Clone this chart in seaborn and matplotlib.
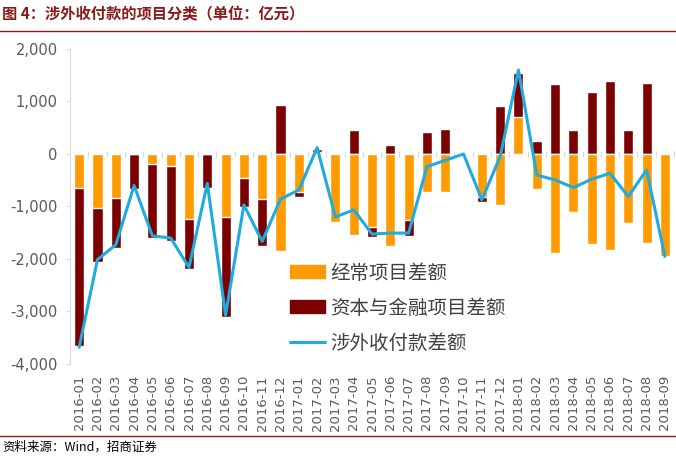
import numpy as np
import pandas as pd
import matplotlib
matplotlib.use('Agg')
import matplotlib.pyplot as plt
from matplotlib.lines import Line2D
from matplotlib.patches import Patch
import seaborn as sns

sns.set_style('white')
plt.rcParams['font.family'] = ['Noto Sans CJK SC', 'DejaVu Sans']

# months 2016-01 .. 2018-09
months = ['2016-01', '2016-02', '2016-03', '2016-04', '2016-05', '2016-06',
          '2016-07', '2016-08', '2016-09', '2016-10', '2016-11', '2016-12',
          '2017-01', '2017-02', '2017-03', '2017-04', '2017-05', '2017-06',
          '2017-07', '2017-08', '2017-09', '2017-10', '2017-11', '2017-12',
          '2018-01', '2018-02', '2018-03', '2018-04', '2018-05', '2018-06',
          '2018-07', '2018-08', '2018-09']

# 经常项目差额
current = [-640, -1020, -835, 20, -185, -235, -1240, 0, -1200, -450, -860,
           -1855, -715, 30, -1300, -1550, -1392, -1747, -1266, -728, -728, 0,
           -810, -981, 696, -671, -1886, -1100, -1715, -1823, -1323, -1690,
           -1950]

# 资本与金融项目差额
capital = [-3020, -1037, -965, -660, -1415, -1430, -960, -640, -1910, -556,
           -900, 928, -108, 60, 0, 450, -188, 177, -304, 424, 481, 0, -108,
           905, 848, 240, 1335, 455, 1177, 1399, 455, 1348, -15]

# 涉外收付款差额
total = [-3680, -2010, -1730, -600, -1560, -1600, -2160, -560, -3070, -970,
         -1665, -860, -685, 120, -1200, -1063, -1525, -1506, -1506, -241,
         -120, 0, -873, -50, 1600, -400, -494, -640, -480, -367, -810, -304,
         -1950]

labels = ['经常项目差额', '资本与金融项目差额', '涉外收付款差额']

orange = '#FF9B00'
darkred = '#7B0000'
blue = '#1FAAE0'
gray = '#595959'


def main():
    df = pd.DataFrame({'month': months, 'current': current,
                       'capital': capital, 'total': total})
    # excel-like stacking: same sign stacks on top of current item
    same = np.sign(df['current']) == np.sign(df['capital'])
    df['capital_top'] = np.where(same, df['current'] + df['capital'],
                                 df['capital'])

    fig = plt.figure(figsize=(6.76, 4.57), dpi=100)
    ax = fig.add_axes([0.1036, 0.2035, 0.8935, 0.6893])

    sns.barplot(data=df, x='month', y='capital_top', color=darkred,
                width=0.55, saturation=1, ax=ax, order=months)
    sns.barplot(data=df, x='month', y='current', color=orange,
                width=0.55, saturation=1, ax=ax, order=months)
    sns.lineplot(x=np.arange(len(months)), y=df['total'], color=blue,
                 linewidth=2.2, ax=ax)

    ax.set_xlim(-0.5, len(months) - 0.5)
    ax.set_ylim(-4000, 2000)
    ax.set_yticks(range(-4000, 2001, 1000))
    ax.yaxis.set_major_formatter(
        matplotlib.ticker.FuncFormatter(lambda v, p: f'{int(v):,}'))
    ax.set_xlabel('')
    ax.set_ylabel('')
    ax.set_xticks(range(len(months)))
    ax.set_xticklabels(months, rotation=90, fontsize=9.5, color=gray,
                       family='DejaVu Sans')
    ax.tick_params(axis='x', length=0, pad=8)
    ax.tick_params(axis='y', labelsize=10.5, labelcolor=gray, length=3,
                   color='#D9D9D9', left=True, pad=6)
    for t in ax.get_yticklabels():
        t.set_family('DejaVu Sans')

    for side in ['top', 'right', 'bottom']:
        ax.spines[side].set_visible(False)
    ax.spines['left'].set_color('#D9D9D9')

    # zero axis with small category ticks
    sec = ax.secondary_xaxis(4000 / 6000)
    sec.set_xticks(np.arange(-0.5, len(months), 1))
    sec.set_xticklabels([])
    sec.tick_params(length=4, color='#D9D9D9', direction='inout')
    sec.spines['bottom'].set_color('#D9D9D9')
    sec.spines['top'].set_visible(False)

    handles = [Patch(color=orange), Patch(color=darkred),
               Line2D([], [], color=blue, linewidth=2.2)]
    ax.legend(handles, labels, loc='upper left',
              bbox_to_anchor=(0.364, 0.322), frameon=False, fontsize=14,
              labelcolor='#404040', handlelength=1.8, handleheight=0.65,
              labelspacing=0.72, handletextpad=0.28, borderpad=0,
              borderaxespad=0)

    fig.text(0.003, 0.968, '图 4：涉外收付款的项目分类（单位：亿元）',
             fontsize=11, fontweight='bold', color='#8B1A1A', va='center')
    fig.add_artist(Line2D([0, 1], [0.932, 0.932], color='#8B1A1A',
                          linewidth=1.0))
    fig.add_artist(Line2D([0, 1], [0.046, 0.046], color='#8B1A1A',
                          linewidth=1.0))
    fig.text(0.003, 0.022, '资料来源：Wind，招商证券', fontsize=9,
             color='black', va='center')

    fig.savefig('out.png', dpi=100)


if __name__ == '__main__':
    main()
